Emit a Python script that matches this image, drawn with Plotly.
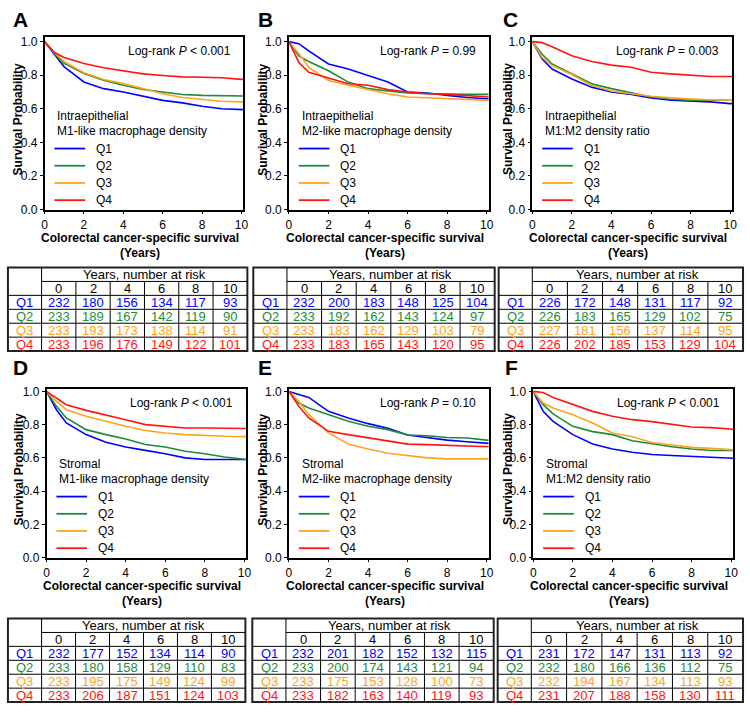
import plotly.graph_objects as go

# ---------------- data ----------------
years = [0, 0.5, 1, 2, 3, 4, 5, 6, 7, 8, 9, 10]
groups = ["Q1", "Q2", "Q3", "Q4"]
panel_letters = ["A", "B", "C", "D", "E", "F"]
subset_labels = ["Intraepithelial", "Intraepithelial", "Intraepithelial", "Stromal", "Stromal", "Stromal"]
metric_labels = ["M1-like macrophage density", "M2-like macrophage density", "M1:M2 density ratio",
                 "M1-like macrophage density", "M2-like macrophage density", "M1:M2 density ratio"]
logrank_p = ["< 0.001", "= 0.99", "= 0.003", "< 0.001", "= 0.10", "< 0.001"]
x_ticks = [0, 2, 4, 6, 8, 10]
y_ticks = [0.0, 0.2, 0.4, 0.6, 0.8, 1.0]
risk_years = [0, 2, 4, 6, 8, 10]

# survival probability read at `years`, per group Q1..Q4
surv_A = [[1.0, 0.925, 0.85, 0.76, 0.72, 0.70, 0.675, 0.65, 0.635, 0.615, 0.60, 0.595],
          [1.0, 0.93, 0.87, 0.81, 0.77, 0.74, 0.715, 0.70, 0.685, 0.68, 0.677, 0.676],
          [1.0, 0.935, 0.88, 0.815, 0.775, 0.75, 0.72, 0.69, 0.667, 0.655, 0.645, 0.641],
          [1.0, 0.935, 0.905, 0.87, 0.845, 0.827, 0.808, 0.798, 0.79, 0.788, 0.785, 0.775]]
surv_B = [[1.0, 0.988, 0.945, 0.867, 0.837, 0.798, 0.759, 0.70, 0.694, 0.68, 0.667, 0.66],
          [1.0, 0.915, 0.882, 0.827, 0.759, 0.72, 0.706, 0.694, 0.69, 0.686, 0.686, 0.686],
          [1.0, 0.93, 0.847, 0.769, 0.74, 0.714, 0.69, 0.67, 0.665, 0.657, 0.652, 0.65],
          [1.0, 0.876, 0.818, 0.784, 0.749, 0.74, 0.714, 0.70, 0.69, 0.686, 0.68, 0.67]]
surv_C = [[1.0, 0.896, 0.837, 0.778, 0.729, 0.70, 0.686, 0.665, 0.651, 0.647, 0.641, 0.631],
          [1.0, 0.925, 0.867, 0.808, 0.749, 0.72, 0.694, 0.67, 0.657, 0.651, 0.651, 0.651],
          [1.0, 0.906, 0.857, 0.804, 0.739, 0.706, 0.69, 0.675, 0.665, 0.657, 0.652, 0.651],
          [1.0, 0.994, 0.969, 0.916, 0.882, 0.86, 0.847, 0.818, 0.808, 0.798, 0.792, 0.792]]
surv_D = [[1.0, 0.89, 0.81, 0.74, 0.694, 0.665, 0.645, 0.625, 0.60, 0.59, 0.59, 0.59],
          [1.0, 0.91, 0.84, 0.77, 0.74, 0.714, 0.68, 0.665, 0.64, 0.625, 0.605, 0.59],
          [1.0, 0.94, 0.89, 0.85, 0.82, 0.79, 0.765, 0.75, 0.74, 0.734, 0.73, 0.728],
          [1.0, 0.96, 0.92, 0.886, 0.86, 0.83, 0.80, 0.79, 0.78, 0.78, 0.78, 0.777]]
surv_E = [[1.0, 0.98, 0.964, 0.88, 0.84, 0.806, 0.778, 0.738, 0.723, 0.707, 0.697, 0.687],
          [1.0, 0.93, 0.90, 0.86, 0.82, 0.79, 0.77, 0.738, 0.733, 0.723, 0.72, 0.707],
          [1.0, 0.94, 0.86, 0.75, 0.683, 0.653, 0.628, 0.614, 0.60, 0.594, 0.594, 0.594],
          [1.0, 0.91, 0.84, 0.76, 0.74, 0.72, 0.70, 0.683, 0.68, 0.677, 0.673, 0.667]]
surv_F = [[1.0, 0.88, 0.82, 0.74, 0.683, 0.653, 0.634, 0.62, 0.614, 0.608, 0.604, 0.598],
          [1.0, 0.92, 0.865, 0.79, 0.758, 0.74, 0.703, 0.683, 0.667, 0.653, 0.644, 0.644],
          [1.0, 0.93, 0.90, 0.86, 0.81, 0.75, 0.727, 0.693, 0.677, 0.663, 0.657, 0.648],
          [1.0, 0.994, 0.964, 0.92, 0.88, 0.85, 0.83, 0.818, 0.80, 0.786, 0.782, 0.772]]

# number at risk, per group Q1..Q4 at risk_years
risk_A = [[232, 180, 156, 134, 117, 93], [233, 189, 167, 142, 119, 90],
          [233, 193, 173, 138, 114, 91], [233, 196, 176, 149, 122, 101]]
risk_B = [[232, 200, 183, 148, 125, 104], [233, 192, 162, 143, 124, 97],
          [233, 183, 162, 129, 103, 79], [233, 183, 165, 143, 120, 95]]
risk_C = [[226, 172, 148, 131, 117, 92], [226, 183, 165, 129, 102, 75],
          [227, 181, 156, 137, 114, 95], [226, 202, 185, 153, 129, 104]]
risk_D = [[232, 177, 152, 134, 114, 90], [233, 180, 158, 129, 110, 83],
          [233, 195, 175, 149, 124, 99], [233, 206, 187, 151, 124, 103]]
risk_E = [[232, 201, 182, 152, 132, 115], [233, 200, 174, 143, 121, 94],
          [233, 175, 153, 128, 100, 73], [233, 182, 163, 140, 119, 93]]
risk_F = [[231, 172, 147, 131, 113, 92], [232, 180, 166, 136, 112, 75],
          [232, 194, 167, 134, 113, 93], [231, 207, 188, 158, 130, 111]]

surv_all = [surv_A, surv_B, surv_C, surv_D, surv_E, surv_F]
risk_all = [risk_A, risk_B, risk_C, risk_D, risk_E, risk_F]

# ---------------- style / geometry ----------------
W, H = 750, 714
FONT = "Liberation Sans, Arial, Helvetica, sans-serif"
NARROW = "Liberation Sans Narrow, Arial Narrow, Liberation Sans, sans-serif"
group_colors = ["#0000ff", "#1c8c3c", "#ffa31a", "#ff1414"]

plot_x = [(42, 243), (289, 491), (535, 737), (44, 246), (289, 491), (536, 738)]
plot_y = [(33, 208)] * 3 + [(391, 562)] * 3
y_max = [1.025] * 3 + [1.012] * 3
x_max = 10.1
table_x = [(5, 247), (253, 497), (501, 748), (5, 245), (252, 496), (500, 748)]
table_y = [(267, 352)] * 3 + [(624, 709)] * 3
table_label_w = 34
ytitle_x = [15, 262, 510, 16, 262, 510]
letter_x = [18, 265, 513, 18, 265, 514]
letter_y = [15, 15, 15, 369, 369, 369]


def PX(px):
    return px / W


def PY(py):
    return 1 - py / H


fig = go.Figure()
annotations = []
shapes = []


def ann(text, px, py, size=12, color="black", xanchor="center", yanchor="middle",
        family=FONT, angle=0):
    annotations.append(dict(text=text, x=PX(px), y=PY(py), xref="paper", yref="paper",
                            showarrow=False, xanchor=xanchor, yanchor=yanchor,
                            textangle=angle, font=dict(size=size, color=color, family=family)))


def line(x0, y0, x1, y1, width=1, color="black"):
    shapes.append(dict(type="line", xref="paper", yref="paper",
                       x0=PX(x0), y0=PY(y0), x1=PX(x1), y1=PY(y1),
                       line=dict(color=color, width=width)))


layout_axes = {}
for i in range(6):
    n = "" if i == 0 else str(i + 1)
    xa, ya = "x" + n, "y" + n
    x0, x1 = plot_x[i]
    y0, y1 = plot_y[i]
    for g in range(4):
        fig.add_trace(go.Scatter(
            x=years + [x_max], y=surv_all[i][g] + [surv_all[i][g][-1]],
            mode="lines", line=dict(color=group_colors[g], width=1.6),
            xaxis=xa, yaxis=ya, showlegend=False, hoverinfo="skip"))
    axcommon = dict(showline=True, mirror=True, linecolor="black", linewidth=1.5,
                    showgrid=False, zeroline=False, ticks="outside", ticklen=3,
                    tickcolor="black", tickfont=dict(size=12, family=FONT, color="black"),
                    fixedrange=True)
    layout_axes["xaxis" + n] = dict(domain=[PX(x0), PX(x1)], range=[0, x_max],
                                    anchor=ya, tickvals=x_ticks, **axcommon)
    layout_axes["yaxis" + n] = dict(domain=[PY(y1), PY(y0)], range=[0, y_max[i]],
                                    anchor=xa, tickvals=y_ticks, tickformat=".1f", **axcommon)

    # panel letter
    ann("<b>%s</b>" % panel_letters[i], letter_x[i], letter_y[i], size=21)
    # y title
    ann("<b>Survival Probability</b>", ytitle_x[i], (y0 + y1) / 2 - 4, size=12, angle=-90)
    # x title
    cx = (x0 + x1) / 2 - 4
    ann("<b>Colorectal cancer-specific survival</b>", cx, y1 + 29, size=12)
    ann("<b>(Years)</b>", cx, y1 + 44, size=12)
    # log-rank
    ann("Log-rank <i>P</i> %s" % logrank_p[i], x1 - 11, y0 + 14, size=12, xanchor="right")
    # in-plot legend
    ann(subset_labels[i], x0 + 11, y1 - 95, size=12, xanchor="left")
    ann(metric_labels[i], x0 + 11, y1 - 80, size=12, xanchor="left")
    for g in range(4):
        ly = y1 - 62 + g * 17.5
        line(x0 + 10, ly, x0 + 41, ly, width=1.8, color=group_colors[g])
        ann(groups[g], x0 + 50, ly, size=12, xanchor="left")

    # risk table
    tx0, tx1 = table_x[i]
    ty0, ty1 = table_y[i]
    rh = (ty1 - ty0) / 6
    ys = [ty0 + k * rh for k in range(7)]
    cw = (tx1 - tx0 - table_label_w) / 6
    xs = [tx0 + table_label_w + k * cw for k in range(7)]
    shapes.append(dict(type="rect", xref="paper", yref="paper",
                       x0=PX(tx0), y0=PY(ty1), x1=PX(tx1), y1=PY(ty0),
                       line=dict(color="#222222", width=2)))
    line(xs[0], ty0, xs[0], ty1)
    line(xs[0], ys[1], tx1, ys[1])
    for k in range(2, 6):
        line(tx0, ys[k], tx1, ys[k])
    for k in range(1, 6):
        line(xs[k], ys[1], xs[k], ty1)
    ann("Years, number at risk", (xs[0] + tx1) / 2, (ys[0] + ys[1]) / 2 + 0.5, size=13, family=NARROW)
    for k, yv in enumerate(risk_years):
        ann(str(yv), (xs[k] + xs[k + 1]) / 2, (ys[1] + ys[2]) / 2 + 0.5, size=13, family=NARROW)
    for g in range(4):
        ry = (ys[2 + g] + ys[3 + g]) / 2 + 0.5
        ann(groups[g], (tx0 + xs[0]) / 2, ry, size=13, color=group_colors[g], family=NARROW)
        for k in range(6):
            ann(str(risk_all[i][g][k]), (xs[k] + xs[k + 1]) / 2, ry, size=13,
                color=group_colors[g], family=NARROW)

fig.update_layout(
    width=W, height=H, autosize=False,
    margin=dict(l=0, r=0, t=0, b=0, pad=0),
    paper_bgcolor="white", plot_bgcolor="white",
    font=dict(family=FONT, size=12, color="black"),
    annotations=annotations, shapes=shapes, showlegend=False,
    **layout_axes)

fig.write_html("out.html", config={"displayModeBar": False},
               post_script="document.body.style.margin='0px';document.body.style.padding='0px';")
